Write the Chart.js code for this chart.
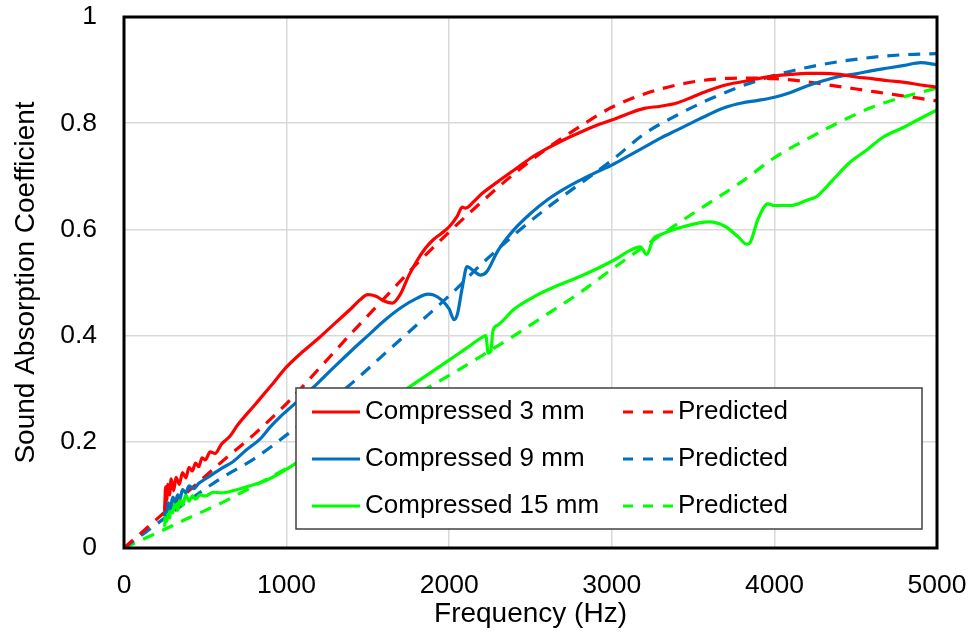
<!DOCTYPE html>
<html>
<head>
<meta charset="utf-8">
<script src="https://cdn.jsdelivr.net/npm/chart.js@4.4.1/dist/chart.umd.min.js"></script>
<style>
  html, body { margin: 0; padding: 0; background: #fff; }
  #wrap { width: 977px; height: 642px; }
</style>
</head>
<body>
<div id="wrap"><canvas id="absorption"></canvas></div>
<script>
// measured curves (frequency in Hz, absorption coefficient)
var freq3 = [250, 256, 262, 270, 280, 290, 305, 320, 340, 360, 380, 400, 420, 440, 460, 480, 500, 530, 560, 600, 650, 700, 800, 900, 1000, 1100, 1200, 1300, 1400, 1450, 1500, 1550, 1600, 1650, 1700, 1750, 1800, 1850, 1900, 1950, 2000, 2050, 2080, 2100, 2150, 2200, 2300, 2400, 2500, 2600, 2700, 2800, 2900, 3000, 3100, 3200, 3300, 3400, 3500, 3600, 3700, 3800, 3900, 4000, 4100, 4200, 4300, 4400, 4500, 4600, 4700, 4800, 4900, 5000];
var meas3 = [0.07, 0.115, 0.09, 0.12, 0.1, 0.13, 0.108, 0.133, 0.12, 0.142, 0.132, 0.152, 0.145, 0.16, 0.153, 0.17, 0.166, 0.181, 0.178, 0.196, 0.21, 0.232, 0.268, 0.304, 0.341, 0.37, 0.396, 0.424, 0.452, 0.467, 0.477, 0.474, 0.465, 0.461, 0.478, 0.512, 0.54, 0.563, 0.58, 0.592, 0.605, 0.625, 0.642, 0.64, 0.652, 0.667, 0.69, 0.712, 0.734, 0.752, 0.768, 0.782, 0.795, 0.806, 0.818, 0.828, 0.832, 0.838, 0.85, 0.862, 0.872, 0.878, 0.884, 0.889, 0.892, 0.894, 0.894, 0.892, 0.887, 0.884, 0.88, 0.877, 0.872, 0.868];

var freq9 = [250, 256, 263, 272, 285, 300, 315, 330, 345, 360, 380, 400, 430, 460, 500, 550, 600, 672, 750, 836, 900, 960, 1000, 1100, 1200, 1300, 1400, 1500, 1600, 1700, 1800, 1870, 1900, 1950, 2000, 2030, 2050, 2080, 2110, 2150, 2190, 2230, 2300, 2400, 2500, 2600, 2700, 2800, 2900, 3000, 3100, 3200, 3300, 3400, 3500, 3600, 3700, 3800, 3900, 4000, 4100, 4200, 4300, 4400, 4500, 4600, 4700, 4800, 4900, 5000];
var meas9 = [0.06, 0.09, 0.068, 0.085, 0.074, 0.096, 0.087, 0.1, 0.094, 0.11, 0.104, 0.117, 0.112, 0.122, 0.13, 0.14, 0.15, 0.163, 0.184, 0.205, 0.228, 0.247, 0.258, 0.285, 0.313, 0.343, 0.372, 0.4, 0.428, 0.452, 0.47, 0.478, 0.477, 0.468, 0.45, 0.43, 0.44, 0.49, 0.53, 0.522, 0.514, 0.52, 0.56, 0.6, 0.63, 0.655, 0.675, 0.692, 0.707, 0.721, 0.738, 0.755, 0.772, 0.787, 0.802, 0.817, 0.83, 0.838, 0.843, 0.849, 0.858, 0.87, 0.88, 0.888, 0.893, 0.899, 0.904, 0.909, 0.914, 0.91];

var freq15 = [250, 256, 263, 270, 280, 290, 300, 315, 330, 345, 360, 380, 400, 420, 440, 467, 500, 550, 600, 672, 750, 880, 1040, 1200, 1400, 1600, 1740, 1900, 2005, 2100, 2210, 2225, 2240, 2255, 2270, 2300, 2400, 2520, 2650, 2825, 3000, 3130, 3175, 3215, 3255, 3300, 3440, 3600, 3700, 3780, 3830, 3850, 3900, 3960, 4000, 4100, 4200, 4260, 4350, 4460, 4570, 4670, 4780, 4880, 5000];
var meas15 = [0.04, 0.075, 0.05, 0.08, 0.056, 0.085, 0.066, 0.09, 0.071, 0.092, 0.08, 0.1, 0.088, 0.098, 0.092, 0.1, 0.098, 0.105, 0.104, 0.108, 0.115, 0.128, 0.156, 0.19, 0.232, 0.272, 0.3, 0.333, 0.355, 0.375, 0.398, 0.4, 0.367, 0.37, 0.41, 0.42, 0.45, 0.473, 0.492, 0.514, 0.54, 0.563, 0.567, 0.553, 0.582, 0.59, 0.605, 0.614, 0.605, 0.585, 0.572, 0.575, 0.62, 0.648, 0.645, 0.645, 0.655, 0.662, 0.69, 0.725, 0.75, 0.774, 0.79, 0.806, 0.825];

// predicted curves
var freqPred = [0, 200, 400, 600, 800, 1000, 1200, 1400, 1600, 1800, 2000, 2200, 2400, 2600, 2800, 3000, 3200, 3400, 3600, 3800, 4000, 4200, 4400, 4600, 4800, 5000];
var pred3 = [0, 0.054, 0.108, 0.162, 0.214, 0.272, 0.338, 0.405, 0.47, 0.535, 0.595, 0.652, 0.705, 0.752, 0.793, 0.83, 0.855, 0.872, 0.882, 0.885, 0.884, 0.878, 0.869, 0.86, 0.851, 0.842];
var pred9 = [0, 0.045, 0.09, 0.132, 0.168, 0.213, 0.26, 0.31, 0.365, 0.42, 0.475, 0.535, 0.59, 0.64, 0.685, 0.73, 0.78, 0.815, 0.845, 0.87, 0.89, 0.905, 0.916, 0.924, 0.929, 0.931];
var pred15 = [0, 0.028, 0.057, 0.085, 0.117, 0.15, 0.185, 0.22, 0.255, 0.29, 0.325, 0.362, 0.4, 0.44, 0.48, 0.525, 0.568, 0.61, 0.65, 0.69, 0.735, 0.77, 0.802, 0.83, 0.85, 0.866];

var RED = '#FF0000', BLUE = '#0070C0', GREEN = '#00FF00';
var FONT = "'Liberation Sans', Arial, sans-serif";

function pts(xs, ys) {
    return xs.map(function (x, i) { return { x: x, y: ys[i] }; });
}

function line(label, xs, ys, color, dashed) {
    return {
        label: label,
        data: pts(xs, ys),
        borderColor: color,
        backgroundColor: color,
        borderWidth: 3.2,
        borderDash: dashed ? [12, 9] : [],
        pointRadius: 0,
        showLine: true,
        fill: false,
        cubicInterpolationMode: 'monotone'
    };
}

// fixed scale sizes so the plot box lands where the original has it
function fitX(s) {
    s.height = 94;
    s.paddingLeft = 0; s.paddingRight = 0;
}
function fitY(s) {
    s.width = 124;
    s.paddingTop = 0; s.paddingBottom = 0;
}

// black frame round the plot area
var frame = {
    id: 'frame',
    afterDatasetsDraw: function (chart) {
        var a = chart.chartArea, c = chart.ctx;
        c.save();
        c.strokeStyle = '#000';
        c.lineWidth = 3;
        c.strokeRect(a.left, a.top, a.right - a.left, a.bottom - a.top);
        c.restore();
    }
};

// two-column boxed legend like the original
var boxLegend = {
    id: 'boxLegend',
    afterDraw: function (chart) {
        var c = chart.ctx, ds = chart.data.datasets;
        var bx = 296, by = 388, bw = 626, bh = 141;
        c.save();
        c.fillStyle = '#fff';
        c.fillRect(bx, by, bw, bh);
        c.strokeStyle = '#404040';
        c.lineWidth = 1.5;
        c.strokeRect(bx, by, bw, bh);
        c.font = '26px ' + FONT;
        c.textBaseline = 'middle';
        c.fillStyle = '#000';
        var rows = [412, 459, 506];
        for (var i = 0; i < 3; i++) {
            var y = rows[i];
            // measured
            c.strokeStyle = ds[i].borderColor;
            c.lineWidth = 3;
            c.setLineDash([]);
            c.beginPath(); c.moveTo(312, y); c.lineTo(360, y); c.stroke();
            c.fillText(ds[i].label, 365, y);
            // predicted
            c.strokeStyle = ds[i + 3].borderColor;
            c.setLineDash([10, 10]);
            c.beginPath(); c.moveTo(623, y); c.lineTo(673, y); c.stroke();
            c.setLineDash([]);
            c.fillText(ds[i + 3].label, 678, y);
        }
        c.restore();
    }
};

Chart.defaults.font.family = FONT;
Chart.defaults.color = '#000';

var ctx = document.getElementById('absorption').getContext('2d');
var myChart = new Chart(ctx, {
    type: 'scatter',
    data: {
        datasets: [
            line('Compressed 3 mm', freq3, meas3, RED, false),
            line('Compressed 9 mm', freq9, meas9, BLUE, false),
            line('Compressed 15 mm', freq15, meas15, GREEN, false),
            line('Predicted', freqPred, pred3, RED, true),
            line('Predicted', freqPred, pred9, BLUE, true),
            line('Predicted', freqPred, pred15, GREEN, true)
        ]
    },
    options: {
        responsive: true,
        maintainAspectRatio: false,
        animation: false,
        layout: { padding: { top: 17, right: 40, left: 0, bottom: 0 } },
        plugins: {
            legend: { display: false },
            tooltip: { enabled: false }
        },
        scales: {
            x: {
                type: 'linear',
                min: 0,
                max: 5000,
                afterFit: fitX,
                ticks: {
                    stepSize: 1000,
                    padding: 22,
                    font: { size: 26.5 },
                    callback: function (v) { return String(v); }
                },
                grid: { color: '#d9d9d9', lineWidth: 1.5, drawTicks: false },
                border: { display: false },
                title: { display: true, text: 'Frequency (Hz)', font: { size: 28 }, padding: { top: 0, bottom: 11 } }
            },
            y: {
                min: 0,
                max: 1,
                afterFit: fitY,
                ticks: {
                    stepSize: 0.2,
                    padding: 27,
                    font: { size: 26.5 },
                    callback: function (v) { return +v.toFixed(1) + ''; }
                },
                grid: { color: '#d9d9d9', lineWidth: 1.5, drawTicks: false },
                border: { display: false },
                title: { display: true, text: 'Sound Absorption Coefficient', font: { size: 28 }, padding: { top: 9, bottom: 0 } }
            }
        }
    },
    plugins: [frame, boxLegend]
});
</script>
</body>
</html>
